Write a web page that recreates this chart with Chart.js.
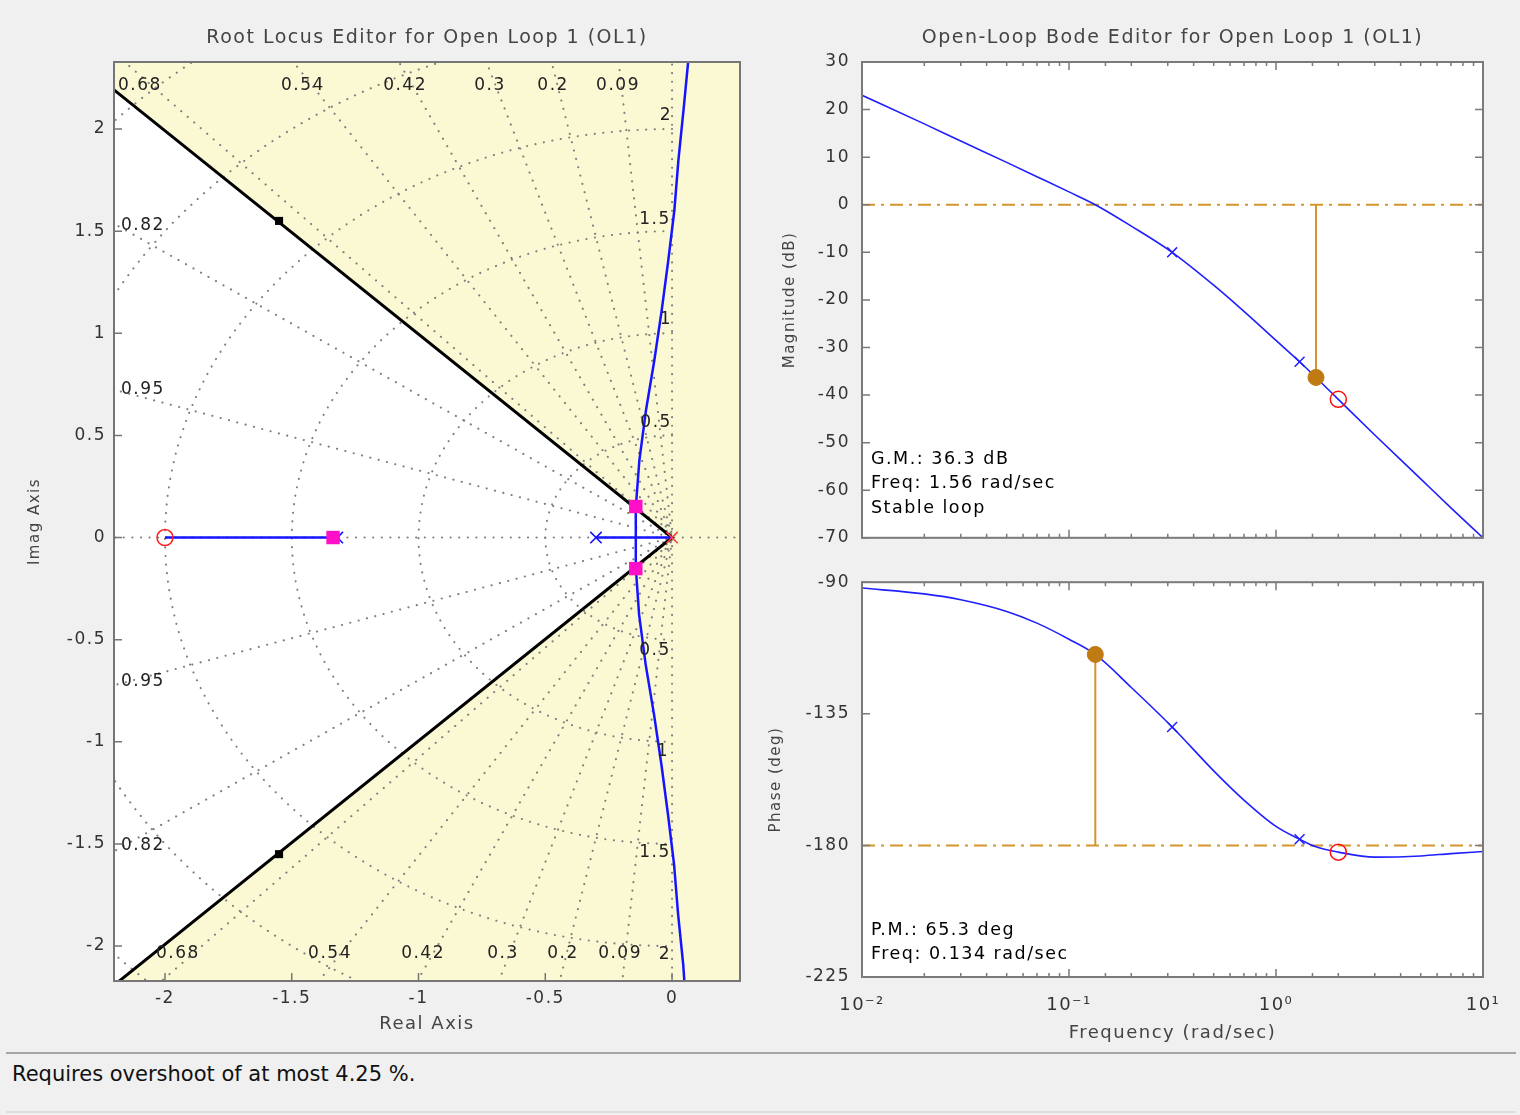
<!DOCTYPE html>
<html><head><meta charset="utf-8">
<script src="https://cdn.jsdelivr.net/npm/chart.js@4.4.1/dist/chart.umd.min.js"></script>
<style>
html,body{margin:0;padding:0;background:#f0f0f0;width:1520px;height:1115px;overflow:hidden;font-family:'DejaVu Sans',sans-serif;}
canvas{position:absolute;}
#rl{left:0;top:0;}
#mag{left:760px;top:0;}
#ph{left:760px;top:560px;}
#sep{position:absolute;left:6px;top:1052px;width:1510px;height:0;border-top:2px solid #a6a6a6;}
#sep2{position:absolute;left:6px;top:1111px;width:1510px;height:0;border-top:2px solid #dedede;}
#status{position:absolute;left:12px;top:1062px;font-size:21px;color:#111;white-space:nowrap;}
</style></head><body>
<canvas id="rl" width="760" height="1050"></canvas>
<canvas id="mag" width="760" height="560"></canvas>
<canvas id="ph" width="760" height="500"></canvas>
<div id="sep"></div>
<div id="status">Requires overshoot of at most 4.25 %.</div>
<div id="sep2"></div>
<script>
// ================= DATA =================
// Root locus (s-plane)
const branchUpperRe = [-0.143, -0.143, -0.129, -0.103, -0.070, -0.041, -0.015, 0.009, 0.025, 0.045, 0.064];
const branchUpperIm = [0, 0.147, 0.377, 0.622, 0.867, 1.111, 1.356, 1.601, 1.846, 2.090, 2.335];
const branchLowerRe = [-0.143, -0.143, -0.130, -0.104, -0.071, -0.042, -0.016, 0.008, 0.024, 0.044, 0.050];
const branchLowerIm = [0, -0.147, -0.377, -0.622, -0.867, -1.111, -1.356, -1.601, -1.846, -2.090, -2.200];
const realBranchARe = [-0.30, 0];
const realBranchBRe = [-2.0, -1.337];
const clPoleRe = [-0.143, -0.143, -1.337];
const clPoleIm = [0.152, -0.152, 0];
const designPtRe = [-1.55, -1.55];
const designPtIm = [1.55, -1.55];
const compPoleRe = [0];
const compPoleIm = [0];
const plantPoleRe = [-0.30, -1.32];
const plantPoleIm = [0, 0];
const compZeroRe = [-2.0];
const compZeroIm = [0];
const overshootRe = [-2.4, 0, -2.4];
const overshootIm = [2.39, 0, -2.39];
const zetaGrid = [0.09, 0.2, 0.3, 0.42, 0.54, 0.68, 0.82, 0.95];
const wnGrid = [0.5, 1, 1.5, 2, 2.5, 3];
const rlXTicks = [-2, -1.5, -1, -0.5, 0];
const rlYTicks = [-2, -1.5, -1, -0.5, 0, 0.5, 1, 1.5, 2];

// Bode
const freq     = [0.01, 0.02, 0.03, 0.05, 0.07, 0.1, 0.134, 0.2, 0.315, 0.5, 0.7, 1.0, 1.3, 1.56, 2, 3, 5, 7, 10];
const magDb    = [23.0, 17.0, 13.4, 8.9, 5.9, 2.7, 0.0, -4.5, -10.0, -16.9, -22.4, -28.5, -33.0, -36.3, -40.9, -48.4, -57.6, -63.7, -70.0];
const phaseDeg = [-92.0, -94.0, -96.0, -100.0, -104.0, -109.5, -114.7, -126.0, -139.5, -154.5, -164.5, -173.5, -177.9, -180.5, -182.3, -184.0, -183.6, -182.8, -182.1];
const magTicks = [30, 20, 10, 0, -10, -20, -30, -40, -50, -60, -70];
const phaseTicks = [-90, -135, -180, -225];
const freqDecades = [0.01, 0.1, 1, 10];
const decadeLabels = ['10\u207B\u00B2', '10\u207B\u00B9', '10\u2070', '10\u00B9'];
const plantPoleFreq = [0.315, 1.3];
const magAtPlantPoles = [-10.0, -33.0];
const phaseAtPlantPoles = [-139.5, -177.9];
const zeroFreq = [2.0];
const magAtZero = [-40.9];
const phaseAtZero = [-182.3];
const gmFreq = 1.56, gmDb = 36.3;
const pmFreq = 0.134, pmDeg = 65.3;

// ================= helpers / plugins =================
const pts = (xs, ys) => xs.map((x, i) => ({x: x, y: ys[i]}));
Chart.defaults.font.family = "'DejaVu Sans', 'Liberation Sans', sans-serif";
Chart.defaults.animation = false;
Chart.defaults.events = [];

const spacing = {
  id: 'spacing',
  beforeUpdate(c) { c.ctx.letterSpacing = '1.5px'; },
  beforeDraw(c) { c.ctx.letterSpacing = '1.5px'; }
};
const areaBg = color => ({
  id: 'areaBg',
  beforeDatasetsDraw(c) {
    const {ctx, chartArea: a} = c;
    ctx.save(); ctx.fillStyle = color; ctx.fillRect(a.left, a.top, a.width, a.height); ctx.restore();
  }
});
const frameTicks = o => ({
  id: 'frameTicks',
  afterDatasetsDraw(c) {
    const {ctx, chartArea: a, scales} = c;
    const xs = scales.x, ys = scales.y;
    ctx.save();
    ctx.strokeStyle = o.color; ctx.lineWidth = 1.5;
    ctx.beginPath();
    xs.ticks.forEach(t => {
      const px = xs.getPixelForValue(t.value);
      const len = t.major === false ? o.minor : o.major;
      if (o.bottom) { ctx.moveTo(px, a.bottom); ctx.lineTo(px, a.bottom - len); }
      if (o.top) { ctx.moveTo(px, a.top); ctx.lineTo(px, a.top + len); }
    });
    ys.ticks.forEach(t => {
      const py = ys.getPixelForValue(t.value);
      if (o.left) { ctx.moveTo(a.left, py); ctx.lineTo(a.left + o.major, py); }
      if (o.right) { ctx.moveTo(a.right, py); ctx.lineTo(a.right - o.major, py); }
    });
    ctx.stroke();
    ctx.lineWidth = o.width;
    ctx.strokeRect(a.left, a.top, a.width, a.height);
    ctx.restore();
  }
});
const notes = (items, font, color) => ({
  id: 'notes',
  afterDatasetsDraw(c) {
    const {ctx, chartArea: a, scales} = c;
    ctx.save();
    ctx.font = font; ctx.fillStyle = color; ctx.textBaseline = 'middle';
    items.forEach(it => {
      if (it.data) {
        ctx.textAlign = 'center';
        ctx.fillText(it.text, scales.x.getPixelForValue(it.x), scales.y.getPixelForValue(it.y));
      } else {
        ctx.textAlign = 'left';
        ctx.fillText(it.text, a.left + it.dx, a.bottom - it.dy);
      }
    });
    ctx.restore();
  }
});

const tickFont = {size: 17};
const tickColor = '#333333';
const axTitleColor = '#444444';
const titleFont = {size: 19, weight: 'normal'};
const hTitleFont = {size: 18};
const vTitleFont = {size: 15};

// ================= Root locus chart =================
const blue = '#1414ff';
const gridStyle = {borderColor: '#7f7f7f', borderWidth: 2.1, borderDash: [0.1, 8.5], borderCapStyle: 'round', pointRadius: 0, showLine: true, fill: false};
const gridSets = [];
zetaGrid.forEach(z => {
  const s = Math.sqrt(1 - z * z), R = 3.6;
  gridSets.push(Object.assign({}, gridStyle, {data: [{x: -R * z, y: R * s}, {x: 0, y: 0}, {x: -R * z, y: -R * s}]}));
});
wnGrid.forEach(r => {
  const p = [];
  for (let a = 90; a <= 270; a += 2) { const t = a * Math.PI / 180; p.push({x: r * Math.cos(t), y: r * Math.sin(t)}); }
  gridSets.push(Object.assign({}, gridStyle, {data: p}));
});
gridSets.push(Object.assign({}, gridStyle, {data: [{x: -2.4, y: 0}, {x: 0.4, y: 0}]}));
gridSets.push(Object.assign({}, gridStyle, {data: [{x: 0, y: -2.4}, {x: 0, y: 2.5}]}));

const rlSets = [
  {data: pts(clPoleRe, clPoleIm), showLine: false, pointStyle: 'rect', pointRadius: 9.5, pointBackgroundColor: '#ff10c8', pointBorderColor: '#ff10c8', pointBorderWidth: 0},
  {data: pts(designPtRe, designPtIm), showLine: false, pointStyle: 'rect', pointRadius: 5.7, pointBackgroundColor: '#000', pointBorderColor: '#000', pointBorderWidth: 0},
  {data: pts(compZeroRe, compZeroIm), showLine: false, pointStyle: 'circle', pointRadius: 8, pointBackgroundColor: 'rgba(0,0,0,0)', pointBorderColor: '#ff2020', pointBorderWidth: 1.5},
  {data: pts(compPoleRe, compPoleIm), showLine: false, pointStyle: 'crossRot', pointRadius: 8, pointBorderColor: '#ff4040', pointBorderWidth: 1.6},
  {data: pts(plantPoleRe, plantPoleIm), showLine: false, pointStyle: 'crossRot', pointRadius: 8, pointBorderColor: blue, pointBorderWidth: 1.6},
  {data: pts(branchUpperRe, branchUpperIm), borderColor: blue, borderWidth: 2.5, fill: false},
  {data: pts(branchLowerRe, branchLowerIm), borderColor: blue, borderWidth: 2.5, fill: false},
  {data: pts(realBranchARe, [0, 0]), borderColor: blue, borderWidth: 2.5, fill: false},
  {data: pts(realBranchBRe, [0, 0]), borderColor: blue, borderWidth: 2.5, fill: false},
  {data: pts(overshootRe, overshootIm), borderColor: '#000', borderWidth: 3, fill: false}
].concat(gridSets).concat([
  {data: pts([overshootRe[0], overshootRe[1]], [overshootIm[0], overshootIm[1]]), borderWidth: 0, borderColor: 'rgba(0,0,0,0)', backgroundColor: '#ffffff', fill: '+1'},
  {data: pts([overshootRe[2], overshootRe[1]], [overshootIm[2], overshootIm[1]]), borderWidth: 0, borderColor: 'rgba(0,0,0,0)', fill: false}
]);

const rlLabels = [
  ['0.68', -2.099, 2.215], ['0.54', -1.456, 2.215], ['0.42', -1.053, 2.215], ['0.3', -0.718, 2.215], ['0.2', -0.469, 2.215], ['0.09', -0.213, 2.215],
  ['0.68', -1.949, -2.039], ['0.54', -1.349, -2.039], ['0.42', -0.982, -2.039], ['0.3', -0.667, -2.039], ['0.2', -0.430, -2.039], ['0.09', -0.205, -2.039],
  ['0.82', -2.087, 1.525], ['0.95', -2.087, 0.722], ['0.95', -2.087, -0.703], ['0.82', -2.087, -1.510],
  ['2', -0.024, 2.064], ['1.5', -0.067, 1.559], ['1', -0.024, 1.065], ['0.5', -0.063, 0.565],
  ['0.5', -0.067, -0.551], ['1', -0.036, -1.050], ['1.5', -0.067, -1.540], ['2', -0.028, -2.044]
].map(l => ({data: true, text: l[0], x: l[1], y: l[2]}));

new Chart(document.getElementById('rl'), {
  type: 'line',
  data: {datasets: rlSets},
  options: {
    responsive: false, maintainAspectRatio: false,
    layout: {padding: {left: 0, right: 20, top: 0, bottom: 0}, autoPadding: false},
    elements: {point: {radius: 0}, line: {tension: 0}},
    plugins: {
      legend: {display: false}, tooltip: {enabled: false},
      title: {display: true, text: 'Root Locus Editor for Open Loop 1 (OL1)', fullSize: false, color: axTitleColor,
              font: titleFont, padding: {top: 26.6, bottom: 12.6}}
    },
    scales: {
      x: {type: 'linear', min: -2.201, max: 0.268,
          afterBuildTicks: s => { s.ticks = rlXTicks.map(v => ({value: v})); },
          ticks: {padding: 7, font: tickFont, color: tickColor, maxRotation: 0, minRotation: 0, autoSkip: false, callback: v => String(v)},
          grid: {display: false, drawTicks: false}, border: {display: false},
          title: {display: true, text: 'Real Axis', font: hTitleFont, color: axTitleColor, padding: {top: 0, bottom: 15}},
          afterFit: s => { s.height = 69; }},
      y: {type: 'linear', min: -2.171, max: 2.328,
          afterBuildTicks: s => { s.ticks = rlYTicks.map(v => ({value: v})); },
          ticks: {padding: 8, font: tickFont, color: tickColor, autoSkip: false, callback: v => String(v)},
          grid: {display: false, drawTicks: false}, border: {display: false},
          title: {display: true, text: 'Imag Axis', font: vTitleFont, color: axTitleColor, padding: {top: 26, bottom: 0}},
          afterFit: s => { s.width = 114; }}
    }
  },
  plugins: [spacing, areaBg('#fbf9d4'), frameTicks({color: '#767676', width: 2, major: 8, minor: 4, left: true, bottom: true}),
            notes(rlLabels, "17px 'DejaVu Sans'", '#222222')]
});

// ================= Bode charts =================
const orange = '#d4962c';
const orangeDot = '#c07a12';
const bodeBlue = '#2020ff';
const decadeLabel = v => {
  for (let i = 0; i < freqDecades.length; i++) {
    if (Math.abs(v - freqDecades[i]) < freqDecades[i] * 1e-6) return decadeLabels[i];
  }
  return '';
};

const magSets = [
  {data: pts(zeroFreq, magAtZero), showLine: false, pointStyle: 'circle', pointRadius: 8, pointBackgroundColor: 'rgba(0,0,0,0)', pointBorderColor: '#ff1010', pointBorderWidth: 1.5},
  {data: [{x: gmFreq, y: -gmDb}], showLine: false, pointStyle: 'circle', pointRadius: 8, pointBackgroundColor: orangeDot, pointBorderColor: orangeDot},
  {data: pts(plantPoleFreq, magAtPlantPoles), showLine: false, pointStyle: 'crossRot', pointRadius: 7, pointBorderColor: bodeBlue, pointBorderWidth: 1.5},
  {data: pts(freq, magDb), borderColor: bodeBlue, borderWidth: 1.6, cubicInterpolationMode: 'monotone', fill: false},
  {data: [{x: gmFreq, y: 0}, {x: gmFreq, y: -gmDb}], borderColor: orange, borderWidth: 2, fill: false},
  {data: [{x: freqDecades[0], y: 0}, {x: freqDecades[3], y: 0}], borderColor: orange, borderWidth: 2, borderDash: [13, 6, 3, 6], fill: false}
];
const magNotes = [
  {text: 'G.M.: ' + gmDb + ' dB', dx: 9, dy: 78},
  {text: 'Freq: ' + gmFreq + ' rad/sec', dx: 9, dy: 54},
  {text: 'Stable loop', dx: 9, dy: 29}
];

new Chart(document.getElementById('mag'), {
  type: 'line',
  data: {datasets: magSets},
  options: {
    responsive: false, maintainAspectRatio: false,
    layout: {padding: {left: 0, right: 37, top: 0, bottom: 0}, autoPadding: false},
    elements: {point: {radius: 0}, line: {tension: 0}},
    plugins: {
      legend: {display: false}, tooltip: {enabled: false},
      title: {display: true, text: 'Open-Loop Bode Editor for Open Loop 1 (OL1)', fullSize: false, color: axTitleColor,
              font: titleFont, padding: {top: 26.6, bottom: 12.6}}
    },
    scales: {
      x: {type: 'logarithmic', min: 0.01, max: 10,
          ticks: {display: false, autoSkip: false, maxRotation: 0, minRotation: 0, callback: v => decadeLabel(v)},
          grid: {display: false, drawTicks: false}, border: {display: false},
          afterFit: s => { s.height = 6; }},
      y: {type: 'linear', min: -70, max: 30,
          afterBuildTicks: s => { s.ticks = magTicks.map(v => ({value: v})); },
          ticks: {padding: 12, font: tickFont, color: tickColor, autoSkip: false, callback: v => String(v)},
          grid: {display: false, drawTicks: false}, border: {display: false},
          title: {display: true, text: 'Magnitude (dB)', font: vTitleFont, color: axTitleColor, padding: {top: 21, bottom: 0}},
          afterFit: s => { s.width = 102; }}
    }
  },
  plugins: [spacing, areaBg('#ffffff'), frameTicks({color: '#7a7a7a', width: 2, major: 8, minor: 4, left: true, right: true, top: true, bottom: true}),
            notes(magNotes, "17.5px 'DejaVu Sans'", '#000000')]
});

const phSets = [
  {data: pts(zeroFreq, phaseAtZero), showLine: false, pointStyle: 'circle', pointRadius: 8, pointBackgroundColor: 'rgba(0,0,0,0)', pointBorderColor: '#ff1010', pointBorderWidth: 1.5},
  {data: [{x: pmFreq, y: -180 + pmDeg}], showLine: false, pointStyle: 'circle', pointRadius: 8, pointBackgroundColor: orangeDot, pointBorderColor: orangeDot},
  {data: pts(plantPoleFreq, phaseAtPlantPoles), showLine: false, pointStyle: 'crossRot', pointRadius: 7, pointBorderColor: bodeBlue, pointBorderWidth: 1.5},
  {data: pts(freq, phaseDeg), borderColor: bodeBlue, borderWidth: 1.6, cubicInterpolationMode: 'monotone', fill: false},
  {data: [{x: pmFreq, y: -180}, {x: pmFreq, y: -180 + pmDeg}], borderColor: orange, borderWidth: 2, fill: false},
  {data: [{x: freqDecades[0], y: -180}, {x: freqDecades[3], y: -180}], borderColor: orange, borderWidth: 2, borderDash: [13, 6, 3, 6], fill: false}
];
const phNotes = [
  {text: 'P.M.: ' + pmDeg + ' deg', dx: 9, dy: 47},
  {text: 'Freq: ' + pmFreq + ' rad/sec', dx: 9, dy: 23}
];

new Chart(document.getElementById('ph'), {
  type: 'line',
  data: {datasets: phSets},
  options: {
    responsive: false, maintainAspectRatio: false,
    layout: {padding: {left: 0, right: 37, top: 22, bottom: 0}, autoPadding: false},
    elements: {point: {radius: 0}, line: {tension: 0}},
    plugins: {legend: {display: false}, tooltip: {enabled: false}},
    scales: {
      x: {type: 'logarithmic', min: 0.01, max: 10,
          ticks: {padding: 18, font: {size: 18}, color: tickColor, autoSkip: false, maxRotation: 0, minRotation: 0, callback: v => decadeLabel(v)},
          grid: {display: false, drawTicks: false}, border: {display: false},
          title: {display: true, text: 'Frequency (rad/sec)', font: hTitleFont, color: axTitleColor, padding: {top: 0, bottom: 16}},
          afterFit: s => { s.height = 83; }},
      y: {type: 'linear', min: -225, max: -90,
          afterBuildTicks: s => { s.ticks = phaseTicks.map(v => ({value: v})); },
          ticks: {padding: 12, font: tickFont, color: tickColor, autoSkip: false, callback: v => String(v)},
          grid: {display: false, drawTicks: false}, border: {display: false},
          title: {display: true, text: 'Phase (deg)', font: vTitleFont, color: axTitleColor, padding: {top: 7, bottom: 0}},
          afterFit: s => { s.width = 102; }}
    }
  },
  plugins: [spacing, areaBg('#ffffff'), frameTicks({color: '#7a7a7a', width: 2, major: 8, minor: 4, left: true, right: true, top: true, bottom: true}),
            notes(phNotes, "17.5px 'DejaVu Sans'", '#000000')]
});
</script>
</body></html>
